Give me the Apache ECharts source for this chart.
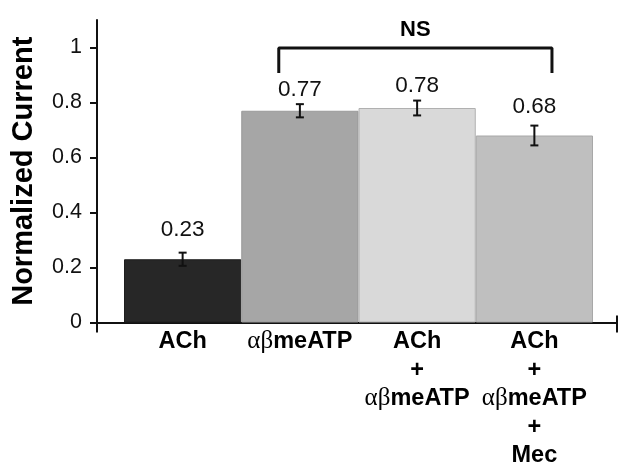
<!DOCTYPE html>
<html>
<head>
<meta charset="utf-8">
<script src="https://cdn.jsdelivr.net/npm/echarts@6/dist/echarts.min.js"></script>
<style>html,body{margin:0;padding:0;background:#fff;}#c{width:618px;height:465px;}</style>
</head>
<body>
<div id="c"></div>
<script>
// ---- data ----
const categories = ['ACh', 'αβmeATP', 'ACh\n+\nαβmeATP', 'ACh\n+\nαβmeATP\n+\nMec'];
const values = [0.23, 0.77, 0.78, 0.68];
const valueLabels = ['0.23', '0.77', '0.78', '0.68'];
const errors = [0.024, 0.024, 0.027, 0.036];
const yTicks = [0, 0.2, 0.4, 0.6, 0.8, 1];
const yTitle = 'Normalized Current';
const nsText = 'NS';
const nsBracketX = [0.82, 0.82, 3.15, 3.15];
const nsBracketY = [0.907, 0.998, 0.998, 0.907];

// ---- styles ----
const barColors = ['#272727', '#a6a6a6', '#d9d9d9', '#bfbfbf'];
const barBorders = ['#1e1e1e', '#999999', '#b0b0b0', '#a8a8a8'];
const labelDist = [17.5, 9, 11, 17.5];
const SANS = '"Liberation Sans", Arial, sans-serif';
const SERIF = '"Liberation Serif", "DejaVu Serif", serif';

const chart = echarts.init(document.getElementById('c'), null, {renderer: 'canvas'});

function fmtCat(s) {
  return s.split('\n').map(l => l.indexOf('αβ') === 0 ? '{g|αβ}{b|' + l.slice(2) + '}' : l).join('\n');
}

const option = {
  backgroundColor: '#fff',
  animation: false,
  grid: [
    {left: 97, right: 1, top: 20, bottom: 142.5, containLabel: false, outerBoundsMode: 'none'},
    {left: 124, right: 25, top: 20, bottom: 142.5, containLabel: false, outerBoundsMode: 'none'}
  ],
  xAxis: [
    {gridIndex: 0, type: 'value', min: 0, max: 1, interval: 1,
     axisLine: {show: true, lineStyle: {color: '#111', width: 2}},
     axisTick: {show: true, length: 10, lineStyle: {color: '#111', width: 2}},
     axisLabel: {show: false}, splitLine: {show: false}},
    {gridIndex: 0, type: 'value', min: 0, max: 1, interval: 1, position: 'bottom',
     axisLine: {show: false},
     axisTick: {show: true, inside: true, length: 7, customValues: [1], lineStyle: {color: '#111', width: 2}},
     axisLabel: {show: false}, splitLine: {show: false}},
    {gridIndex: 1, type: 'category', data: categories,
     axisLine: {show: false}, axisTick: {show: false},
     axisLabel: {
       interval: 0, margin: 5, color: '#000', fontFamily: SANS, fontWeight: 'bold', fontSize: 23.5, lineHeight: 28.5,
       formatter: fmtCat,
       rich: {
         g: {fontFamily: SERIF, fontSize: 25, fontWeight: 'normal', color: '#000', lineHeight: 28.5},
         b: {fontFamily: SANS, fontSize: 23.5, fontWeight: 'bold', color: '#000', lineHeight: 28.5}
       }
     }},
    {gridIndex: 1, type: 'value', min: -0.5, max: 3.5, show: false}
  ],
  yAxis: [
    {gridIndex: 0, type: 'value', min: 0, max: 1.1, interval: 0.2,
     name: yTitle, nameLocation: 'middle', nameRotate: 90, nameGap: 59, nameMoveOverlap: false,
     nameTextStyle: {fontFamily: SANS, fontWeight: 'bold', fontSize: 29, color: '#000'},
     axisLine: {show: true, lineStyle: {color: '#111', width: 2}},
     axisTick: {show: true, length: 7, customValues: yTicks, lineStyle: {color: '#111', width: 2}},
     axisLabel: {customValues: yTicks, margin: 15, fontFamily: SANS, fontSize: 21.5, color: '#111',
                 formatter: v => String(Math.round(v * 10) / 10)},
     splitLine: {show: false}},
    {gridIndex: 1, type: 'value', min: 0, max: 1.1, show: false}
  ],
  series: [
    {type: 'bar', xAxisIndex: 2, yAxisIndex: 1, barWidth: '100%', barCategoryGap: 0,
     data: values.map((v, i) => ({
       value: v,
       itemStyle: {color: barColors[i], borderColor: barBorders[i], borderWidth: 1},
       label: {show: true, position: 'top', distance: labelDist[i], formatter: valueLabels[i],
               fontFamily: SANS, fontSize: 22.5, color: '#111'}
     }))},
    {type: 'custom', xAxisIndex: 2, yAxisIndex: 1, z: 5,
     data: values.map((v, i) => [i, v, errors[i]]),
     renderItem: function (params, api) {
       const x = api.value(0), v = api.value(1), e = api.value(2);
       const hi = api.coord([x, v + e]);
       const lo = api.coord([x, v - e]);
       const w = 4;
       const st = {stroke: '#111', lineWidth: 2};
       return {type: 'group', children: [
         {type: 'line', shape: {x1: hi[0], y1: hi[1], x2: lo[0], y2: lo[1]}, style: st},
         {type: 'line', shape: {x1: hi[0] - w, y1: hi[1], x2: hi[0] + w, y2: hi[1]}, style: st},
         {type: 'line', shape: {x1: lo[0] - w, y1: lo[1], x2: lo[0] + w, y2: lo[1]}, style: st}
       ]};
     }},
    {type: 'line', xAxisIndex: 3, yAxisIndex: 1, symbol: 'none', z: 6,
     lineStyle: {color: '#111', width: 3},
     data: nsBracketX.map((x, i) => [x, nsBracketY[i]])},
    {type: 'scatter', xAxisIndex: 3, yAxisIndex: 1, symbolSize: 0, z: 6,
     itemStyle: {opacity: 1},
     data: [[(nsBracketX[0] + nsBracketX[3]) / 2, nsBracketY[1]]],
     label: {show: true, position: 'top', distance: 7, formatter: nsText, opacity: 1,
             fontFamily: SANS, fontWeight: 'bold', fontSize: 22, color: '#000'}}
  ]
};
chart.setOption(option);
</script>
</body>
</html>
